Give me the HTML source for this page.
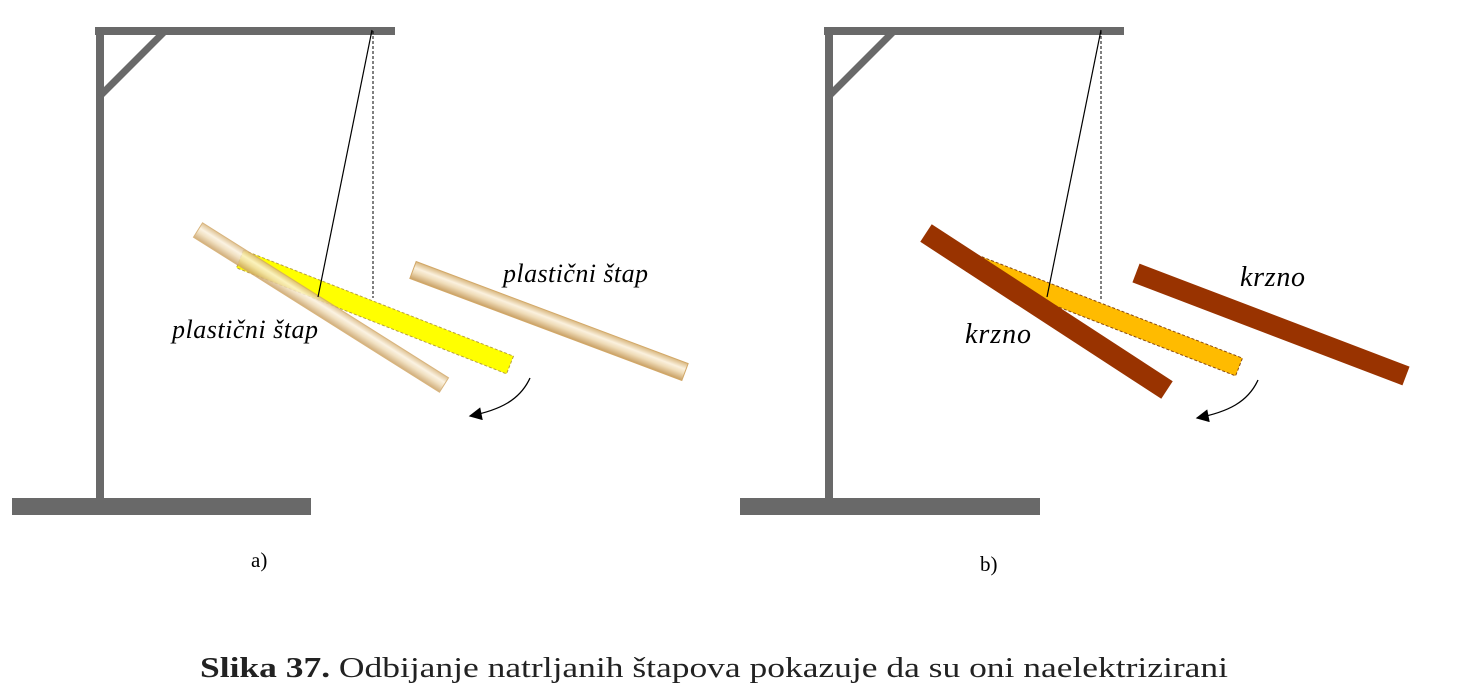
<!DOCTYPE html>
<html><head><meta charset="utf-8"><style>
html,body{margin:0;padding:0;background:#fff;}
svg{display:block;}
</style></head><body>
<svg id="fig" width="1468" height="698" viewBox="0 0 1468 698" xmlns="http://www.w3.org/2000/svg">
<defs>
<linearGradient id="tan" x1="0" y1="0" x2="0" y2="1">
<stop offset="0" stop-color="#d9b77f"/><stop offset="0.35" stop-color="#fbf1de"/><stop offset="0.6" stop-color="#efdcb8"/><stop offset="1" stop-color="#c9a064"/>
</linearGradient>
<marker id="ah" viewBox="0 0 10 10" refX="9" refY="5" markerWidth="12" markerHeight="10" orient="auto"><path d="M0,0 L10,5 L0,10 z" fill="#000"/></marker>
</defs>
<g fill="#696969">
<rect x="95" y="27" width="300" height="8"/>
<rect x="96" y="27" width="8" height="472"/>
<rect x="12" y="498" width="299" height="17"/>
<line x1="100" y1="96" x2="165" y2="31" stroke="#696969" stroke-width="7"/>
</g>
<g fill="#696969">
<rect x="824" y="27" width="300" height="8"/>
<rect x="825" y="27" width="8" height="472"/>
<rect x="740" y="498" width="300" height="17"/>
<line x1="829" y1="96" x2="894" y2="31" stroke="#696969" stroke-width="7"/>
</g>
<g id="rods"></g>
<line x1="373" y1="31" x2="373" y2="298" stroke="#000" stroke-width="1" stroke-dasharray="3,2"/>
<line x1="372" y1="30" x2="318" y2="297" stroke="#000" stroke-width="1.2"/>
<line x1="1101" y1="31" x2="1101" y2="300" stroke="#000" stroke-width="1" stroke-dasharray="3,2"/>
<line x1="1101" y1="30" x2="1047" y2="297" stroke="#000" stroke-width="1.2"/>
<path d="M530,378 C520,400 500,410 470,416" fill="none" stroke="#000" stroke-width="1.3" marker-end="url(#ah)"/>
<path d="M1258,380 C1248,402 1228,412 1197,418" fill="none" stroke="#000" stroke-width="1.3" marker-end="url(#ah)"/>
<g font-family="Liberation Serif, serif" font-style="italic" font-size="26" fill="#000">
<text x="503" y="282" textLength="145">plastični štap</text>
<text x="172" y="338" textLength="146">plastični štap</text>
<text x="1240" y="286" font-size="28" textLength="65">krzno</text>
<text x="965" y="343" font-size="28" textLength="66">krzno</text>
</g>
<g font-family="Liberation Serif, serif" font-size="21" fill="#000">
<text x="251" y="567">a)</text>
<text x="980" y="571">b)</text>
</g>
<text x="200" y="677" textLength="1028" lengthAdjust="spacingAndGlyphs" font-family="Liberation Serif, serif" font-size="28" fill="#222"><tspan font-weight="bold">Slika 37.</tspan> Odbijanje natrljanih štapova pokazuje da su oni naelektrizirani</text>
</svg>
<script>
var NS='http://www.w3.org/2000/svg';
var g=document.getElementById('rods');
function rod(x1,y1,x2,y2,w,fill,stroke,dash,op,name){
  var dx=x2-x1,dy=y2-y1,L=Math.sqrt(dx*dx+dy*dy),a=Math.atan2(dy,dx)*180/Math.PI;
  var r=document.createElementNS(NS,'rect');
  r.setAttribute('x',0);r.setAttribute('y',-w/2);r.setAttribute('width',L);r.setAttribute('height',w);
  r.setAttribute('transform','translate('+x1+','+y1+') rotate('+a+')');
  r.setAttribute('fill',fill);
  if(stroke){r.setAttribute('stroke',stroke);r.setAttribute('stroke-width',1);}
  if(dash)r.setAttribute('stroke-dasharray',dash);
  if(op)r.setAttribute('opacity',op);
  
  
  g.appendChild(r);
}
rod(240,259,510,365,19,'#ffff00','#b8a040','3,2',null,'hanging-rod-ghost-a');
rod(198,230,444,385,17,'url(#tan)','#d2a868',null,0.85,'plastic-rod-left');
rod(413,270,685,372,18,'url(#tan)','#d2a868',null,null,'plastic-rod-right');
rod(969,262,1239,367,19,'#ffbb00','#8a4a10','3,2',null,'hanging-rod-ghost-b');
rod(926,233,1167,390,21,'#993300',null,null,null,'fur-left');
rod(1136,273,1406,376,20,'#993300',null,null,null,'fur-right');
</script>
</body></html>
